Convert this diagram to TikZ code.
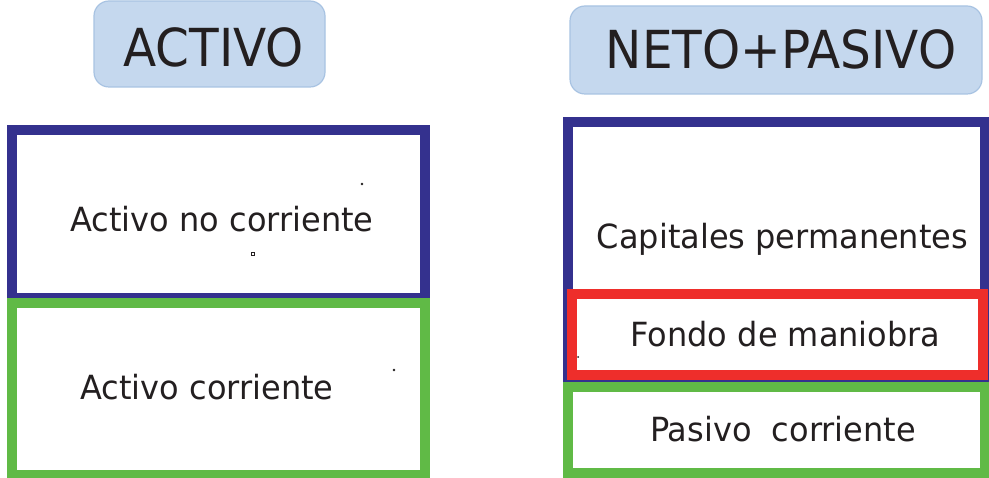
\documentclass[tikz,border=0pt]{standalone}
\usepackage{fontspec}
\setmainfont{DejaVu Sans}
\definecolor{navy}{RGB}{52,49,142}
\definecolor{grn}{RGB}{96,186,70}
\definecolor{rd}{RGB}{238,46,43}
\definecolor{hdrfill}{RGB}{197,216,238}
\definecolor{hdrline}{RGB}{168,195,226}
\definecolor{txt}{RGB}{35,31,32}
\tikzset{
  box/.style={draw, line width=10pt, fill=white, rectangle, inner sep=0pt},
  hdr/.style={draw=hdrline, fill=hdrfill, line width=1.2pt, rounded corners=15pt, rectangle, inner sep=0pt},
  lbl/.style={text=txt, font=\fontsize{32}{36}\selectfont, anchor=base, inner sep=0pt, yscale=1.04},
  hlbl/.style={text=txt, font=\fontsize{48.5}{54}\selectfont, anchor=base, inner sep=0pt, yscale=1.08},
  speck/.style={fill=txt, draw=none}
}
\begin{document}
\begin{tikzpicture}[x=1pt,y=-1pt]
\useasboundingbox (0,0) rectangle (989,478);
% headers
\node[hdr, minimum width=231pt, minimum height=86pt] (hA) at (209.5,44) {};
\node[hdr, minimum width=412pt, minimum height=88pt] (hP) at (776,50) {};
\node[hlbl] (tA) at (213.5,67) {ACTIVO};
\node[hlbl] (tP) at (781,69) {NETO+PASIVO};
% left column
\node[box, draw=navy, minimum width=413pt, minimum height=168pt] (anc) at (218.5,214) {};
\node[box, draw=grn, minimum width=413pt, minimum height=172pt] (ac) at (218.5,389) {};
\node[lbl] (tanc) at (222,231.7) {Activo no corriente};
\node[lbl] (tac) at (207,400) {Activo corriente};
% right column
\node[box, draw=navy, minimum width=417.5pt, minimum height=254.5pt] (cp) at (776.25,249.75) {};
\node[box, draw=rd, minimum width=411pt, minimum height=81pt] (fm) at (777.5,334.5) {};
\node[box, draw=grn, minimum width=417.5pt, minimum height=85.5pt] (pc) at (776.25,430.25) {};
\node[lbl] (tcp) at (782.5,248.3) {Capitales permanentes};
\node[lbl] (tfm) at (785.5,346.7) {Fondo de maniobra};
\node[lbl] (tpc) at (783,441.7) {Pasivo\ \ corriente};
% stray specks
\fill[speck] (362,184) circle (1.4pt);
\draw[txt, line width=0.7pt] (251.8,252.8) rectangle (254.2,255.2);
\fill[speck] (394,370) circle (1.4pt);
\fill[speck] (578,357) circle (1pt);
\end{tikzpicture}
\end{document}
